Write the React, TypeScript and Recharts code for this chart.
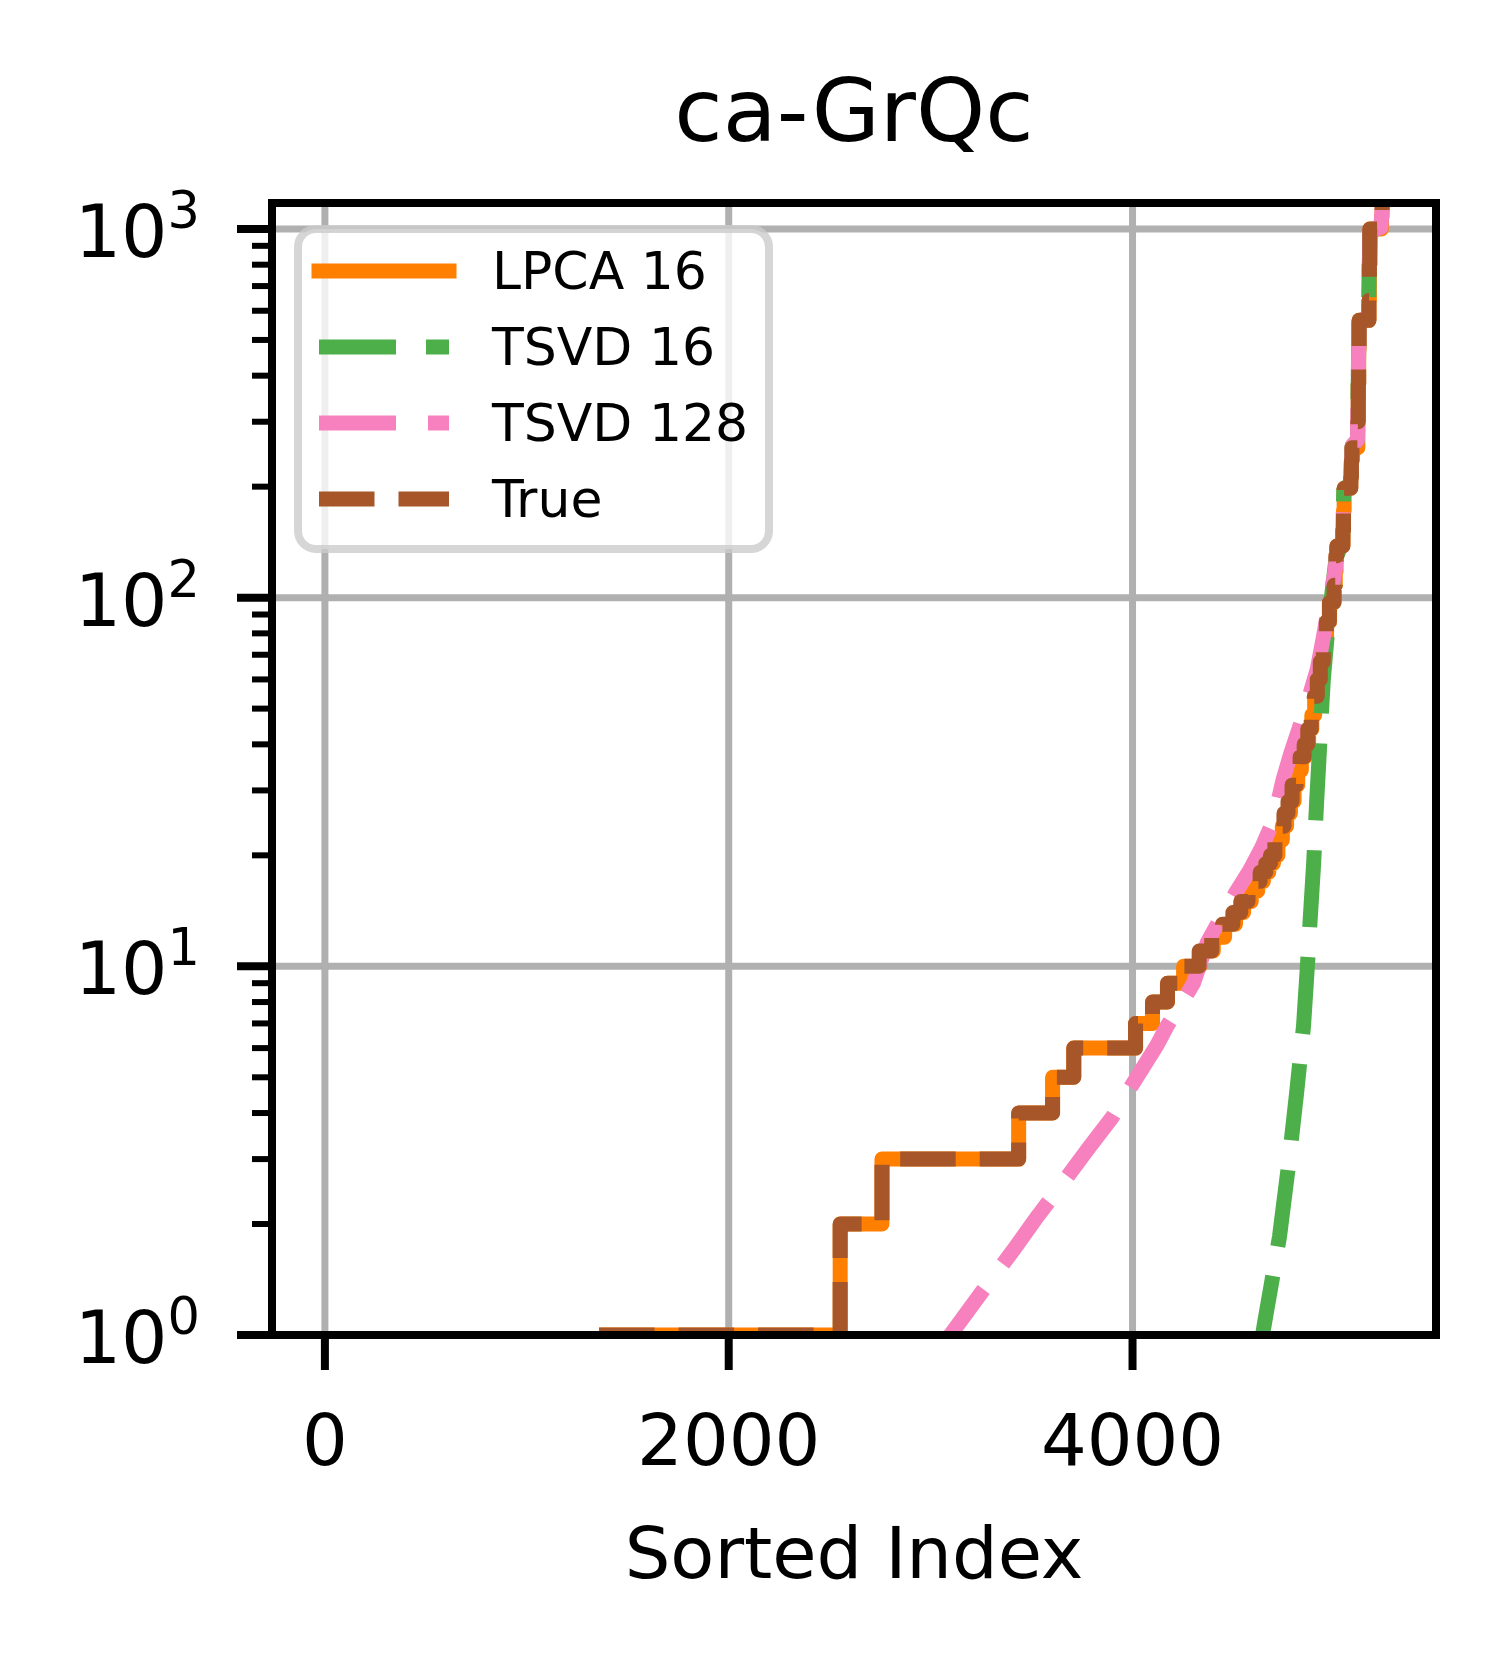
import React from 'react';
import { LineChart, Line, XAxis, YAxis, CartesianGrid, Legend, Label } from 'recharts';

// values: [sorted index, value]
const title = 'ca-GrQc';
const xLabel = 'Sorted Index';
const xTicks = [0, 2000, 4000];
const yDecades = [1, 10, 100, 1000];
const xDomain = [-262, 5503];
const yDomain = [1, 1176];

const lpca16: [number, number][] = [
  [1358, 1], [2552, 2], [2759, 3], [3436, 4], [3604, 5], [3709, 6], [4015, 7], [4099, 8], [4173, 9],
  [4253, 10], [4335, 11], [4400, 12], [4456, 13], [4510, 14], [4550, 15], [4588, 16], [4620, 17],
  [4648, 18], [4675, 19], [4698, 20], [4720, 22], [4742, 24], [4763, 26], [4782, 28], [4800, 31],
  [4818, 34], [4836, 37], [4855, 40], [4872, 44], [4888, 48], [4902, 54], [4916, 60], [4931, 67],
  [4946, 76], [4961, 86], [4976, 97], [4998, 108], [5004, 118], [5008, 130], [5012, 138],
  [5042, 152], [5045, 172], [5048, 198], [5081, 212], [5084, 235], [5087, 255],
  [5116, 300], [5118, 380], [5120, 470], [5122, 565], [5171, 640], [5173, 800], [5175, 1000],
  [5233, 1080], [5236, 1180], [5241, 1250],
];

const tsvd16: [number, number][] = [
  [4630, 0.9], [4654, 1.08], [4690, 1.4], [4728, 1.85], [4773, 2.9], [4812, 4.5], [4847, 6.9],
  [4866, 10], [4882, 14], [4897, 19], [4912, 28], [4925, 38], [4935, 48], [4945, 60], [4965, 80],
  [4985, 100], [5008, 128], [5040, 142], [5046, 195], [5080, 205], [5088, 258], [5114, 268],
  [5122, 560], [5168, 580], [5176, 985], [5230, 1010], [5241, 1250],
];

const tsvd128: [number, number][] = [
  [3020, 0.92], [3098, 1.0], [3250, 1.3], [3410, 1.7], [3530, 2.1], [3658, 2.6], [3780, 3.2],
  [3900, 3.9], [3980, 4.6], [4055, 5.35], [4120, 6.1], [4172, 6.9], [4240, 7.9], [4302, 9.0],
  [4370, 11.6], [4440, 13.6], [4510, 15.8], [4580, 18.2], [4640, 21], [4700, 25], [4745, 32],
  [4785, 38], [4830, 45], [4880, 55], [4915, 64], [4945, 78], [4975, 97], [5005, 120],
  [5012, 136], [5040, 142], [5046, 195], [5080, 205], [5088, 258], [5114, 268], [5122, 560],
  [5168, 580], [5176, 985], [5230, 1010], [5241, 1250],
];

const trueCounts: [number, number][] = [
  [1358, 1], [2552, 2], [2759, 3], [3436, 4], [3604, 5], [3709, 6], [4015, 7], [4099, 8], [4173, 9],
  [4253, 10], [4330, 11], [4392, 12], [4445, 13], [4497, 14], [4536, 15], [4572, 16], [4605, 17],
  [4632, 18], [4660, 19], [4683, 20], [4705, 22], [4728, 24], [4750, 26], [4770, 28], [4790, 31],
  [4810, 34], [4830, 37], [4850, 40], [4868, 44], [4885, 48], [4900, 54], [4915, 60], [4930, 67],
  [4945, 76], [4960, 86], [4975, 97], [4998, 108], [5004, 118], [5008, 130], [5012, 138],
  [5042, 152], [5045, 172], [5048, 198], [5081, 212], [5084, 235], [5087, 255],
  [5116, 300], [5118, 380], [5120, 470], [5122, 565], [5171, 640], [5173, 800], [5175, 1000],
  [5233, 1080], [5236, 1180], [5241, 1250],
];

const toRows = (pts: [number, number][]) => pts.map(([x, y]) => ({ x, y }));

const series = [
  { name: 'LPCA 16', rows: toRows(lpca16), color: '#ff7f00', dash: undefined, curve: 'stepAfter' },
  { name: 'TSVD 16', rows: toRows(tsvd16), color: '#4daf4a', dash: '77 30', curve: 'linear' },
  { name: 'TSVD 128', rows: toRows(tsvd128), color: '#f781bf', dash: '77 32', curve: 'linear' },
  { name: 'True', rows: toRows(trueCounts), color: '#a65628', dash: '55.5 24', curve: 'stepAfter' },
];

// major decades plus 2..9 minor ticks
const yTicks = yDecades.flatMap((d, i) =>
  i < yDecades.length - 1 ? [d, 2, 3, 4, 5, 6, 7, 8, 9].map((m, j) => (j === 0 ? d : m * d)) : [d]
);

const FONT = 'DejaVu Sans';
const spine = { stroke: '#000', strokeWidth: 8, strokeLinecap: 'square' as const };

const XTick = (props: any) => {
  const { x, y, payload } = props;
  return (
    <g>
      <line x1={x} x2={x} y1={y} y2={y + 35} stroke="#000" strokeWidth={8} />
      <text x={x} y={y + 130} textAnchor="middle" fontSize={72} fontFamily={FONT} fill="#000">
        {payload.value}
      </text>
    </g>
  );
};

const YTick = (props: any) => {
  const { x, y, payload } = props;
  const lg = Math.log10(payload.value);
  const exp = Math.round(lg);
  const major = Math.abs(lg - exp) < 1e-6;
  return (
    <g>
      <line x1={x - (major ? 35 : 20)} x2={x} y1={y} y2={y} stroke="#000" strokeWidth={major ? 8 : 6} />
      {major && (
        <text x={x - 72} y={y + 28} textAnchor="end" fontSize={73} fontFamily={FONT} fill="#000">
          10
          <tspan dy={-29} fontSize={51}>{exp}</tspan>
        </text>
      )}
    </g>
  );
};

const LegendBox = () => (
  <svg width={490} height={340} style={{ display: 'block' }}>
    <rect x={8} y={8} width={471} height={320} rx={18} fill="#fff" fillOpacity={0.8}
      stroke="#cccccc" strokeOpacity={0.8} strokeWidth={8} />
    {series.map((s, i) => (
      <g key={s.name}>
        <line x1={29} x2={159} y1={50 + 76 * i} y2={50 + 76 * i} stroke={s.color} strokeWidth={15}
          strokeDasharray={s.dash} strokeLinecap={s.dash ? 'butt' : 'square'} />
        <text x={202} y={68 + 76 * i} fontSize={52} fontFamily={FONT} fill="#000">{s.name}</text>
      </g>
    ))}
  </svg>
);

export default function App() {
  return (
    <div style={{ position: 'absolute', left: 0, top: 0, background: '#fff' }}>
      <LineChart width={1509} height={1667} margin={{ top: 202, right: 72, bottom: 232, left: 172 }}>
        <CartesianGrid stroke="#b0b0b0" strokeWidth={7} horizontalValues={yDecades} verticalValues={xTicks} />
        {series.map((s) => (
          <Line
            key={s.name}
            data={s.rows}
            dataKey="y"
            name={s.name}
            type={s.curve as any}
            stroke={s.color}
            strokeWidth={15}
            strokeDasharray={s.dash}
            strokeLinejoin="round"
            dot={false}
            activeDot={false}
            isAnimationActive={false}
          />
        ))}
        <XAxis dataKey="x" type="number" domain={xDomain} allowDataOverflow ticks={xTicks} interval={0}
          height={100} tickSize={0} tickMargin={0} tickLine={false} axisLine={spine} tick={<XTick />}>
          <Label content={() => (
            <text x={854} y={1578} textAnchor="middle" fontSize={72} fontFamily={FONT} fill="#000">{xLabel}</text>
          )} />
        </XAxis>
        <YAxis type="number" scale="log" domain={yDomain} allowDataOverflow ticks={yTicks} interval={0}
          width={100} tickSize={0} tickMargin={0} tickLine={false} axisLine={spine} tick={<YTick />} />
        <XAxis xAxisId="top" orientation="top" dataKey="x" type="number" domain={xDomain} allowDataOverflow
          height={1} ticks={xTicks} tick={false} tickLine={false} axisLine={spine}>
          <Label content={() => (
            <text x={854} y={141} textAnchor="middle" fontSize={88} fontFamily={FONT} fill="#000">{title}</text>
          )} />
        </XAxis>
        <YAxis yAxisId="right" orientation="right" type="number" scale="log" domain={yDomain} allowDataOverflow
          width={1} ticks={yDecades} tick={false} tickLine={false} axisLine={spine} />
        <Legend layout="vertical" align="center" verticalAlign="middle" content={LegendBox}
          wrapperStyle={{ position: 'absolute', left: 290, top: 221, width: 490, height: 340 }} />
      </LineChart>
    </div>
  );
}
